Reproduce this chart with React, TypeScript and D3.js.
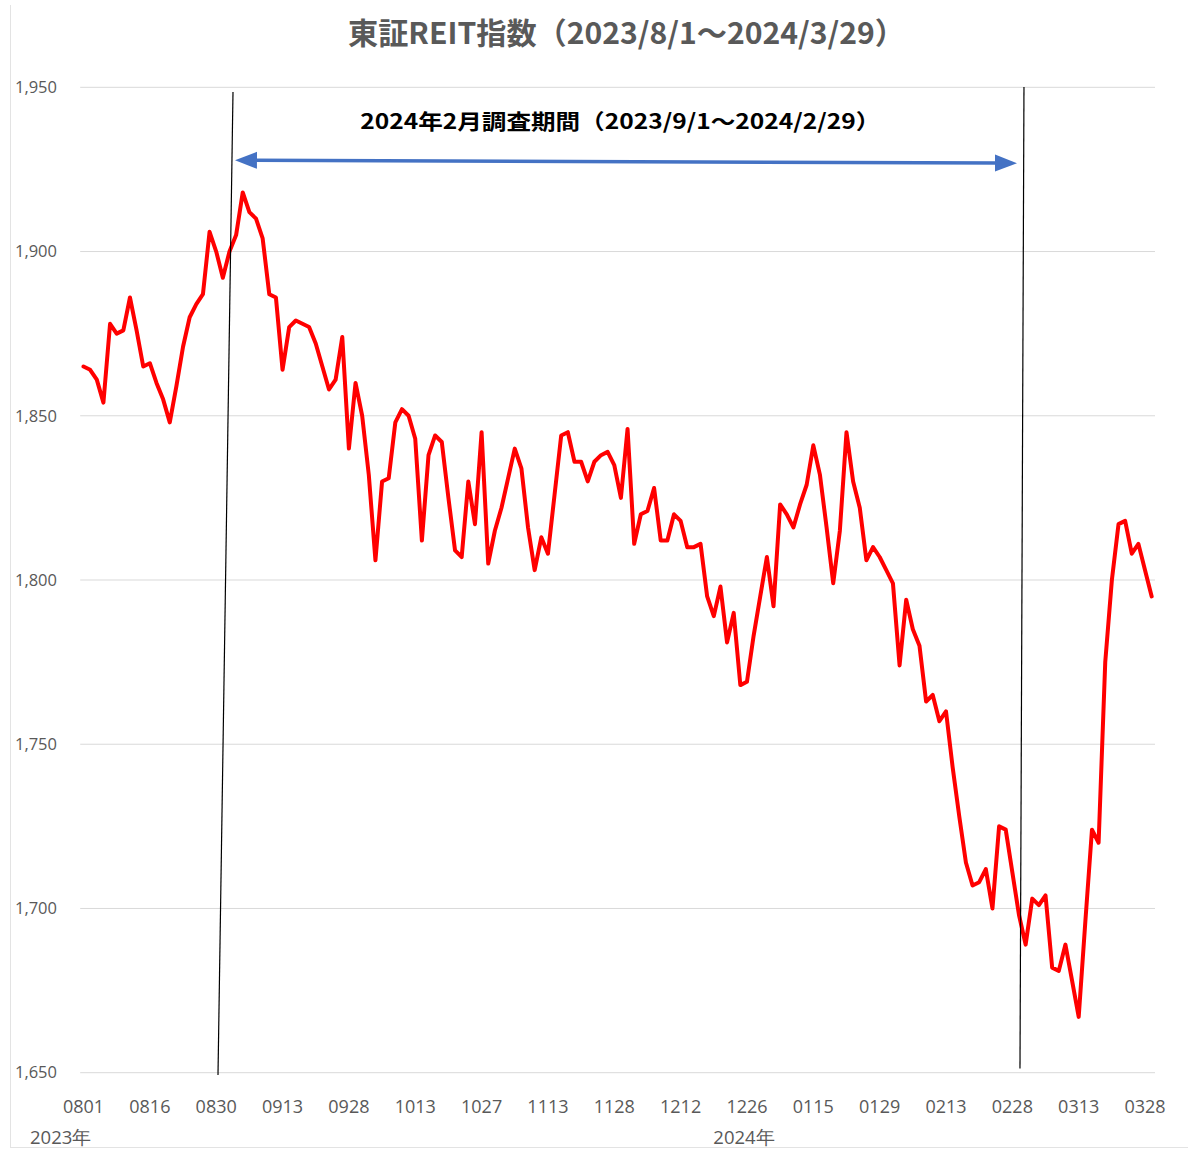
import React from "react";
import * as d3 from "d3";

// Trading days (MMDD), 2023/8/1 – 2024/3/29
const dates: string[] = [
  "0801","0802","0803","0804","0807","0808","0809","0810","0814","0815","0816","0817","0818","0821","0822","0823","0824","0825","0828","0829","0830","0831",
  "0901","0904","0905","0906","0907","0908","0911","0912","0913","0914","0915","0919","0920","0921","0922","0925","0926","0927","0928","0929",
  "1002","1003","1004","1005","1006","1010","1011","1012","1013","1016","1017","1018","1019","1020","1023","1024","1025","1026","1027","1030","1031",
  "1101","1102","1106","1107","1108","1109","1110","1113","1114","1115","1116","1117","1120","1121","1122","1124","1127","1128","1129","1130",
  "1201","1204","1205","1206","1207","1208","1211","1212","1213","1214","1215","1218","1219","1220","1221","1222","1225","1226","1227","1228","1229",
  "0104","0105","0109","0110","0111","0112","0115","0116","0117","0118","0119","0122","0123","0124","0125","0126","0129","0130","0131",
  "0201","0202","0205","0206","0207","0208","0209","0213","0214","0215","0216","0219","0220","0221","0222","0226","0227","0228","0229",
  "0301","0304","0305","0306","0307","0308","0311","0312","0313","0314","0315","0318","0319","0321","0322","0325","0326","0327","0328","0329",
];

// 東証REIT指数 closing values
const values: number[] = [
  1865,1864,1861,1854,1878,1875,1876,1886,1876,1865,1866,1860,1855,1848,1859,1871,1880,1884,1887,1906,1900,1892,
  1900,1905,1918,1912,1910,1904,1887,1886,1864,1877,1879,1878,1877,1872,1865,1858,1861,1874,1840,1860,
  1850,1832,1806,1830,1831,1848,1852,1850,1843,1812,1838,1844,1842,1825,1809,1807,1830,1817,1845,1805,1815,
  1822,1831,1840,1834,1816,1803,1813,1808,1826,1844,1845,1836,1836,1830,1836,1838,1839,1835,1825,1846,
  1811,1820,1821,1828,1812,1812,1820,1818,1810,1810,1811,1795,1789,1798,1781,1790,1768,1769,1783,1795,1807,
  1792,1823,1820,1816,1823,1829,1841,1832,1816,1799,1815,1845,1830,1822,1806,1810,1807,1803,1799,
  1774,1794,1785,1780,1763,1765,1757,1760,1743,1728,1714,1707,1708,1712,1700,1725,1724,1711,1698,
  1689,1703,1701,1704,1682,1681,1689,1678,1667,1696,1724,1720,1775,1800,1817,1818,1808,1811,1803,1795,
];

const yTicks: number[] = [1650, 1700, 1750, 1800, 1850, 1900, 1950];
const xTickEvery = 10;
const yearLabels: { label: string; index: number }[] = [
  { label: "2023年", index: 0 },
  { label: "2024年", index: 100 },
];

const title = "東証REIT指数（2023/8/1～2024/3/29）";
const periodLabel = "2024年2月調査期間（2023/9/1～2024/2/29）";

// Annotation shapes in data space: [category index, index value]
const periodLines: [number, number][][] = [
  [[22.53, 1948.6], [20.27, 1649.3]],
  [[141.75, 1950.1], [141.15, 1651.3]],
];
const periodArrow: [number, number][] = [[22.83, 1927.8], [140.7, 1926.9]];
const periodLabelPos: [number, number] = [80.9, 1937.2];

const W = 1188;
const H = 1152;
const plotLeft = 80.2;
const plotRight = 1155;

export default function App() {
  const x = d3.scaleBand<string>().domain(dates).range([plotLeft, plotRight]).padding(0);
  const cx = (d: string) => (x(d) as number) + x.bandwidth() / 2;
  const xi = d3
    .scaleLinear()
    .domain([0, dates.length - 1])
    .range([cx(dates[0]), cx(dates[dates.length - 1])]);
  const y = d3.scaleLinear().domain([1650, 1950]).range([1072.7, 87.3]);

  const line = d3
    .line<number>()
    .x((_, i) => cx(dates[i]))
    .y((v) => y(v));

  const fmt = d3.format(",");
  const axisFont = "'Open Sans', 'Noto Sans', sans-serif";
  const gray = "#595959";

  const [a0, a1] = periodArrow;
  const ax0 = xi(a0[0]), ay0 = y(a0[1]), ax1 = xi(a1[0]), ay1 = y(a1[1]);
  const ang = Math.atan2(ay1 - ay0, ax1 - ax0);
  const headLen = 22, headW = 8.5;
  const head = (tx: number, ty: number, dir: number) => {
    const c = Math.cos(ang) * dir, s = Math.sin(ang) * dir;
    const bx = tx - c * headLen, by = ty - s * headLen;
    return `M${tx},${ty} L${bx - s * headW},${by + c * headW} L${bx + s * headW},${by - c * headW} Z`;
  };

  return (
    <svg
      width={W}
      height={H}
      style={{ position: "absolute", left: 0, top: 0, background: "#fff" }}
    >
      <rect x={0} y={0} width={W} height={H} fill="#fff" />
      {/* chart area border (left / bottom) */}
      <line x1={10.5} y1={5} x2={10.5} y2={1147} stroke="#E3E3E3" strokeWidth={1} />
      <line x1={10} y1={1147.5} x2={W} y2={1147.5} stroke="#E3E3E3" strokeWidth={1} />

      {/* title */}
      <text
        x={626.5}
        y={44}
        textAnchor="middle"
        fontFamily="'Noto Sans CJK JP', sans-serif"
        fontWeight={700}
        fontSize={30}
        fill={gray}
        textLength={557}
        lengthAdjust="spacingAndGlyphs"
      >
        {title}
      </text>

      {/* gridlines + y labels */}
      {yTicks.map((t) => (
        <g key={t}>
          <line x1={plotLeft} x2={plotRight} y1={y(t)} y2={y(t)} stroke="#D9D9D9" strokeWidth={1} />
          <text
            x={57}
            y={y(t)}
            dy="0.35em"
            textAnchor="end"
            fontFamily={axisFont}
            fontSize={16.5}
            fill={gray}
          >
            {fmt(t)}
          </text>
        </g>
      ))}

      {/* x tick labels */}
      {dates.map((d, i) =>
        i % xTickEvery === 0 ? (
          <text
            key={d + i}
            x={cx(d)}
            y={1113}
            textAnchor="middle"
            fontFamily={axisFont}
            fontSize={18}
            fill={gray}
          >
            {d}
          </text>
        ) : null
      )}
      {yearLabels.map((yl) => (
        <text
          key={yl.label}
          x={yl.index === 0 ? 30 : cx(dates[yl.index]) - 3}
          y={1144}
          textAnchor={yl.index === 0 ? "start" : "middle"}
          fontFamily={axisFont}
          fontSize={18.5}
          fill={gray}
        >
          {yl.label}
        </text>
      ))}

      {/* data line */}
      <path
        d={line(values) as string}
        fill="none"
        stroke="#FF0000"
        strokeWidth={4}
        strokeLinejoin="round"
        strokeLinecap="round"
      />

      {/* survey period markers */}
      {periodLines.map((pl, k) => (
        <line
          key={k}
          x1={xi(pl[0][0])}
          y1={y(pl[0][1])}
          x2={xi(pl[1][0])}
          y2={y(pl[1][1])}
          stroke="#000"
          strokeWidth={1.2}
        />
      ))}
      <line
        x1={ax0 + Math.cos(ang) * headLen * 0.8}
        y1={ay0 + Math.sin(ang) * headLen * 0.8}
        x2={ax1 - Math.cos(ang) * headLen * 0.8}
        y2={ay1 - Math.sin(ang) * headLen * 0.8}
        stroke="#4472C4"
        strokeWidth={3.5}
      />
      <path d={head(ax0, ay0, -1)} fill="#4472C4" />
      <path d={head(ax1, ay1, 1)} fill="#4472C4" />
      <text
        x={xi(periodLabelPos[0])}
        y={y(periodLabelPos[1])}
        textAnchor="middle"
        fontFamily="'Noto Sans CJK JP', sans-serif"
        fontWeight={700}
        fontSize={21}
        fill="#000"
        textLength={520}
        lengthAdjust="spacingAndGlyphs"
      >
        {periodLabel}
      </text>
    </svg>
  );
}
